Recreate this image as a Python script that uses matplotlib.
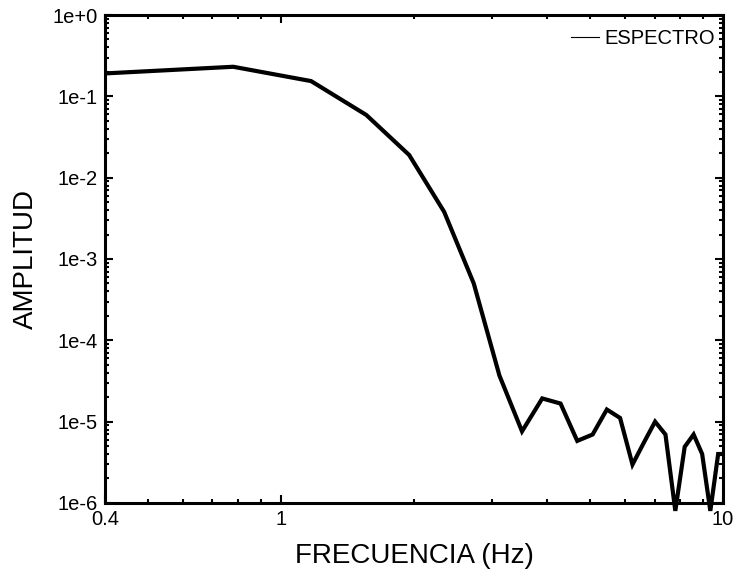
import matplotlib
matplotlib.use("Agg")
import matplotlib.pyplot as plt
from matplotlib.lines import Line2D
from matplotlib.patches import Rectangle
from matplotlib.ticker import LogLocator, FixedLocator, NullFormatter, FixedFormatter

plt.rcParams['font.family'] = ['Liberation Sans', 'DejaVu Sans']

freq = [0.39, 0.78, 1.17, 1.56, 1.95, 2.34, 2.73, 3.12, 3.51, 3.90, 4.29, 4.68,
        5.07, 5.46, 5.85, 6.24, 6.63, 7.02, 7.41, 7.80, 8.19, 8.58, 8.97, 9.36,
        9.75, 10.14]
amp = [0.19, 0.231, 0.154, 0.059, 0.019, 0.0038, 5.0e-4, 3.7e-5, 7.6e-6, 1.93e-5,
       1.67e-5, 5.8e-6, 6.95e-6, 1.41e-5, 1.11e-5, 2.97e-6, 5.6e-6, 1.0e-5,
       6.95e-6, 8e-7, 4.9e-6, 6.95e-6, 4.0e-6, 8e-7, 4.0e-6, 4.0e-6]

xticks = [0.4, 1, 10]
xtick_labels = ['0.4', '1', '10']
yticks = [1e-6, 1e-5, 1e-4, 1e-3, 1e-2, 1e-1, 1e0]
ytick_labels = ['1e-6', '1e-5', '1e-4', '1e-3', '1e-2', '1e-1', '1e+0']

fig = plt.figure(figsize=(7.38, 5.73), dpi=100)
ax = fig.add_axes([0.1423, 0.1222, 0.8374, 0.8516])

line, = ax.plot(freq, amp, color='black', lw=3.0, solid_joinstyle='miter')
ax.set_xscale('log')
ax.set_yscale('log')
ax.set_xlim(0.4, 10)
ax.set_ylim(1e-6, 1e0)

# clip only horizontally so the sharp dips may poke below the frame
rect = Rectangle((0.4, 1e-9), 9.6, 10, transform=ax.transData, visible=False)
ax.add_patch(rect)
line.set_clip_path(rect)

ax.xaxis.set_major_locator(FixedLocator(xticks))
ax.xaxis.set_major_formatter(FixedFormatter(xtick_labels))
ax.xaxis.set_minor_locator(LogLocator(base=10, subs=range(2, 10)))
ax.xaxis.set_minor_formatter(NullFormatter())
ax.yaxis.set_major_locator(FixedLocator(yticks))
ax.yaxis.set_major_formatter(FixedFormatter(ytick_labels))
ax.yaxis.set_minor_locator(LogLocator(base=10, subs=range(2, 10)))
ax.yaxis.set_minor_formatter(NullFormatter())

ax.tick_params(which='both', direction='in', top=True, right=True, width=1.5, labelsize=14.5)
ax.tick_params(which='major', length=6, pad=5)
ax.tick_params(which='minor', length=3)
for s in ax.spines.values():
    s.set_linewidth(2.2)

ax.set_xlabel('FRECUENCIA (Hz)', fontsize=20, labelpad=10)
ax.set_ylabel('AMPLITUD', fontsize=20, labelpad=10)

handle = Line2D([], [], color='black', lw=0.8)
ax.legend([handle], ['ESPECTRO'], loc='upper right', bbox_to_anchor=(1.0, 0.988),
          frameon=False, fontsize=14.5,
          handlelength=1.4, handletextpad=0.25, borderaxespad=0.1, borderpad=0.3)

fig.savefig('out.png', dpi=100)
